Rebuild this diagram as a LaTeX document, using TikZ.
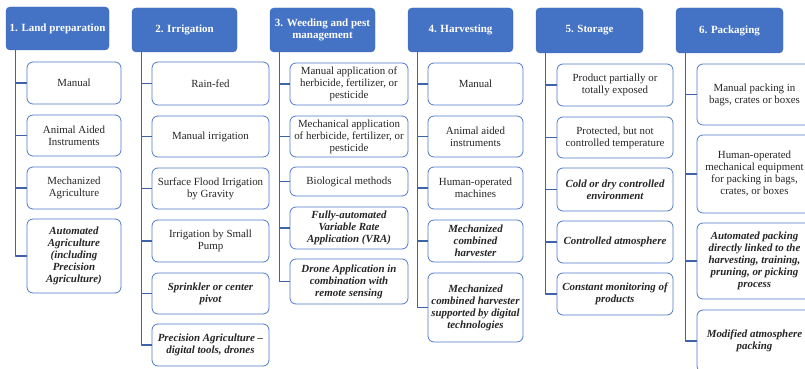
\documentclass[tikz,border=0pt]{standalone}
\usepackage{fontspec}
\setmainfont{Liberation Serif}
\usepackage{tikz}
\usetikzlibrary{positioning}

\definecolor{headblue}{HTML}{4472C4}
\definecolor{headedge}{HTML}{4169B8}
\definecolor{boxedge}{HTML}{4E7BCB}
\definecolor{spineblue}{HTML}{3F63A9}

\begin{document}
\begin{tikzpicture}[x=1pt,y=-1pt,line cap=round,line join=round,
    head/.style={draw=headedge,fill=headblue,rounded corners=4pt,text=white,
      font=\fontsize{11}{12}\selectfont\bfseries,align=center,
      minimum height=44pt,inner sep=0pt},
    item/.style={draw=boxedge,fill=white,rounded corners=6pt,line width=0.8pt,
      font=\fontsize{10.9}{12}\selectfont,align=center,inner sep=0pt,
      text=black!85},
    key/.style={item,font=\fontsize{10.9}{12}\selectfont\bfseries\itshape},
    spine/.style={draw=spineblue,line width=1.2pt,line cap=butt}]
  \useasboundingbox (0,0) rectangle (805,369);
  \clip (0,0) rectangle (805,369);

  % headers
  \node[head,minimum width=103pt,minimum height=43pt] (h1) at (57.5,28.5) {1. Land preparation};
  \node[head,minimum width=105pt] (h2) at (184.5,30) {2. Irrigation};
  \node[head,minimum width=105pt] (h3) at (322.5,30) {3. Weeding and pest\\management};
  \node[head,minimum width=105pt] (h4) at (460.5,30) {4. Harvesting};
  \node[head,minimum width=107pt,minimum height=45pt] (h5) at (589.5,30.5) {5. Storage};
  \node[head,minimum width=107pt,minimum height=45pt] (h6) at (729.5,30.5) {6. Packaging};

  % 1. land preparation
  \node[item,minimum width=94pt,minimum height=42pt] (a1) at (74,83) {Manual};
  \node[item,minimum width=94pt,minimum height=41pt] (a2) at (74,135.5) {Animal Aided\\Instruments};
  \node[item,minimum width=94pt,minimum height=42pt] (a3) at (74,188) {Mechanized\\Agriculture};
  \node[key,minimum width=94pt,minimum height=74pt] (a4) at (74,256) {Automated\\Agriculture\\(including\\Precision\\Agriculture)};

  % 2. irrigation
  \node[item,minimum width=117pt,minimum height=43pt] (b1) at (210.5,83.5) {Rain-fed};
  \node[item,minimum width=117pt,minimum height=41pt] (b2) at (210.5,136.5) {Manual irrigation};
  \node[item,minimum width=117pt,minimum height=41pt] (b3) at (210.5,188.5) {Surface Flood Irrigation\\by Gravity};
  \node[item,minimum width=117pt,minimum height=42pt] (b4) at (210.5,241) {Irrigation by Small\\Pump};
  \node[key,minimum width=117pt,minimum height=41pt] (b5) at (210.5,293.5) {Sprinkler or center\\pivot};
  \node[key,minimum width=117pt,minimum height=42pt] (b6) at (210.5,345) {Precision Agriculture --\\digital tools, drones};

  % 3. weeding and pest management
  \node[item,minimum width=118pt,minimum height=42pt] (c1) at (349,84) {Manual application of\\herbicide, fertilizer, or\\pesticide};
  \node[item,minimum width=118pt,minimum height=41pt] (c2) at (349,136.5) {Mechanical application\\of herbicide, fertilizer, or\\pesticide};
  \node[item,minimum width=118pt,minimum height=29pt] (c3) at (349,181.5) {Biological methods};
  \node[key,minimum width=118pt,minimum height=42pt] (c4) at (349,228) {Fully-automated\\Variable Rate\\Application (VRA)};
  \node[key,minimum width=118pt,minimum height=45pt] (c5) at (349,281.5) {Drone Application in\\combination with\\remote sensing};

  % 4. harvesting
  \node[item,minimum width=95pt,minimum height=42pt] (d1) at (475.5,84) {Manual};
  \node[item,minimum width=95pt,minimum height=41pt] (d2) at (475.5,136.5) {Animal aided\\instruments};
  \node[item,minimum width=95pt,minimum height=42pt] (d3) at (475.5,188) {Human-operated\\machines};
  \node[key,minimum width=95pt,minimum height=42pt] (d4) at (475.5,241) {Mechanized\\combined\\harvester};
  \node[key,minimum width=95pt,minimum height=69pt] (d5) at (475.5,307.5) {Mechanized\\combined harvester\\supported by digital\\technologies};

  % 5. storage
  \node[item,minimum width=116pt,minimum height=42pt] (e1) at (615,85) {Product partially or\\totally exposed};
  \node[item,minimum width=116pt,minimum height=41pt] (e2) at (615,137.5) {Protected, but not\\controlled temperature};
  \node[key,minimum width=116pt,minimum height=43pt] (e3) at (615,189.5) {Cold or dry controlled\\environment};
  \node[key,minimum width=116pt,minimum height=42pt] (e4) at (615,242) {Controlled atmosphere};
  \node[key,minimum width=116pt,minimum height=42pt] (e5) at (615,294) {Constant monitoring of\\products};

  % 6. packaging
  \node[item,minimum width=115pt,minimum height=61pt] (f1) at (754.5,94.5) {Manual packing in\\bags, crates or boxes};
  \node[item,minimum width=115pt,minimum height=78pt] (f2) at (754.5,174) {Human-operated\\mechanical equipment\\for packing in bags,\\crates, or boxes};
  \node[key,minimum width=115pt,minimum height=76pt] (f3) at (754.5,261) {Automated packing\\directly linked to the\\harvesting, training,\\pruning, or picking\\process};
  \node[key,minimum width=115pt,minimum height=62pt] (f4) at (754.5,341) {Modified atmosphere\\packing};

  % spines
  \coordinate (s1) at ([xshift=10pt]h1.south west);
  \coordinate (s2) at ([xshift=10pt]h2.south west);
  \coordinate (s3) at ([xshift=10pt]h3.south west);
  \coordinate (s4) at ([xshift=10pt]h4.south west);
  \coordinate (s5) at ([xshift=10pt]h5.south west);
  \coordinate (s6) at ([xshift=10pt]h6.south west);
  \draw[spine] (s1) |- (a4.west);
  \draw[spine] (s2) |- (b6.west);
  \draw[spine] (s3) |- (c5.west);
  \draw[spine] (s4) |- (d5.west);
  \draw[spine] (s5) |- (e5.west);
  \draw[spine] (s6) |- (f4.west);
  \foreach \n in {a1,a2,a3} \draw[spine] (s1 |- \n.west) -- (\n.west);
  \foreach \n in {b1,b2,b3,b4,b5} \draw[spine] (s2 |- \n.west) -- (\n.west);
  \foreach \n in {c1,c2,c3,c4} \draw[spine] (s3 |- \n.west) -- (\n.west);
  \foreach \n in {d1,d2,d3,d4} \draw[spine] (s4 |- \n.west) -- (\n.west);
  \foreach \n in {e1,e2,e3,e4} \draw[spine] (s5 |- \n.west) -- (\n.west);
  \foreach \n in {f1,f2,f3} \draw[spine] (s6 |- \n.west) -- (\n.west);
\end{tikzpicture}
\end{document}
